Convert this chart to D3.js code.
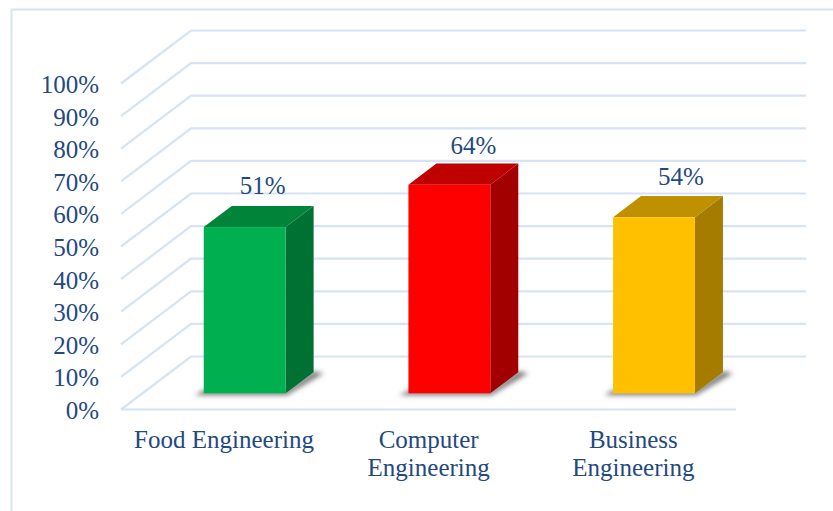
<!DOCTYPE html>
<html>
<head>
<meta charset="utf-8">
<style>
html,body{margin:0;padding:0;background:#fff}
svg{display:block}
text{font-family:"Liberation Serif",serif;fill:#24497f}
</style>
<script src="https://cdn.jsdelivr.net/npm/d3@7/dist/d3.min.js"></script>
</head>
<body>
<svg id="chart" width="833" height="511"></svg>
<script>
const categories = ["Food Engineering", "Computer Engineering", "Business Engineering"];
const categoryLines = [["Food Engineering"], ["Computer", "Engineering"], ["Business", "Engineering"]];
const values = [51, 64, 54];
const valueLabels = ["51%", "64%", "54%"];
const tickValues = [0, 10, 20, 30, 40, 50, 60, 70, 80, 90, 100];
const frontColors = ["#00b050", "#ff0000", "#ffc000"];
const topColors = ["#008439", "#bf0000", "#bf9000"];
const sideColors = ["#007033", "#a20000", "#a67c00"];

const gridColor = "#d6e3f4";
const svg = d3.select("#chart");

// Value axis on the front plane, category bands along the floor, depth going back
const y = d3.scaleLinear().domain([0, 100]).range([409.5, 83.5]);
const x = d3.scaleBand().domain(categories).range([121, 735]);
const depthX = d3.scaleLinear().domain([0, 1]).range([0, 70]);
const depthY = d3.scaleLinear().domain([0, 1]).range([0, -53]);
const floorLeft = 121;
const floorRight = 736;
const barFraction = 0.4;
const barZ0 = 0.305;
const barZ1 = barZ0 + 0.4;

const defs = svg.append("defs");
defs.append("filter").attr("id", "soft")
  .attr("x", "-30%").attr("y", "-60%").attr("width", "160%").attr("height", "220%")
  .append("feGaussianBlur").attr("stdDeviation", 2.4);

// Outer chart frame, open on the right and bottom
svg.append("path")
  .attr("d", "M11.5,511V9.5H833")
  .attr("fill", "none").attr("stroke", gridColor).attr("stroke-width", 2);

// Gridlines: a diagonal on the side wall and a long run on the back wall
const gridPath = d3.line();
svg.append("g").selectAll("path").data(tickValues).join("path")
  .attr("fill", "none").attr("stroke", gridColor).attr("stroke-width", 2.2)
  .attr("d", t => gridPath([
    [floorLeft, y(t)],
    [floorLeft + depthX(1), y(t) + depthY(1)],
    [floorRight + depthX(1), y(t) + depthY(1)]
  ]));

// Front edge of the floor
svg.append("line")
  .attr("x1", floorLeft).attr("x2", floorRight).attr("y1", y(0)).attr("y2", y(0))
  .attr("stroke", gridColor).attr("stroke-width", 2.2);

// Value axis labels
svg.append("g").selectAll("text").data(tickValues).join("text")
  .attr("x", 99).attr("y", t => y(t) + 9.5)
  .attr("text-anchor", "end").attr("font-size", 25)
  .text(t => t + "%");

// Each bar: floor shadow, then side, top and front faces
const bars = categories.map((c, i) => {
  const w = x.bandwidth() * barFraction;
  const left = x(c) + (x.bandwidth() - w) / 2 + depthX(barZ0);
  const right = left + w;
  const base = y(0) + depthY(barZ0);
  const top = y(values[i]) + depthY(barZ0);
  return {i, left, right, base, top, dx: depthX(barZ1 - barZ0), dy: depthY(barZ1 - barZ0)};
});

const g = svg.append("g");
const poly = pts => "M" + pts.map(p => p.join(",")).join("L") + "Z";

g.selectAll(".shadow").data(bars).join("path")
  .attr("class", "shadow")
  .attr("fill", "#7a7a7a").attr("filter", "url(#soft)")
  .attr("d", b => poly([
    [b.left - 9, b.base + 2],
    [b.right + 1, b.base + 2],
    [b.right + b.dx + 10, b.base + b.dy + 1],
    [b.right + b.dx, b.base + b.dy - 1],
    [b.right, b.base - 3],
    [b.left, b.base - 3]
  ]));

g.selectAll(".side").data(bars).join("path")
  .attr("class", "side").attr("fill", b => sideColors[b.i])
  .attr("d", b => poly([
    [b.right, b.top], [b.right + b.dx, b.top + b.dy],
    [b.right + b.dx, b.base + b.dy], [b.right, b.base]
  ]));

g.selectAll(".top").data(bars).join("path")
  .attr("class", "top").attr("fill", b => topColors[b.i])
  .attr("d", b => poly([
    [b.left, b.top], [b.left + b.dx, b.top + b.dy],
    [b.right + b.dx, b.top + b.dy], [b.right, b.top]
  ]));

g.selectAll(".front").data(bars).join("rect")
  .attr("class", "front").attr("fill", b => frontColors[b.i])
  .attr("x", b => b.left).attr("y", b => b.top)
  .attr("width", b => b.right - b.left).attr("height", b => b.base - b.top);

// Value labels above each bar, nudged clear of the top faces
const labelShiftX = [18, 24, 27];
const labelShiftY = [-12, -9, -11];
svg.append("g").selectAll("text").data(bars).join("text")
  .attr("x", b => (b.left + b.right) / 2 + labelShiftX[b.i])
  .attr("y", b => b.top + b.dy + labelShiftY[b.i])
  .attr("text-anchor", "middle").attr("font-size", 25)
  .text(b => valueLabels[b.i]);

// Category labels, wrapped onto one or two lines
const cat = svg.append("g").selectAll("text").data(categories).join("text")
  .attr("text-anchor", "middle").attr("font-size", 25);
cat.selectAll("tspan").data((c, i) => categoryLines[i].map(s => ({s, c}))).join("tspan")
  .attr("x", d => x(d.c) + x.bandwidth() / 2 + 0.7)
  .attr("y", (d, j) => 448 + j * 28)
  .text(d => d.s);
</script>
</body>
</html>
